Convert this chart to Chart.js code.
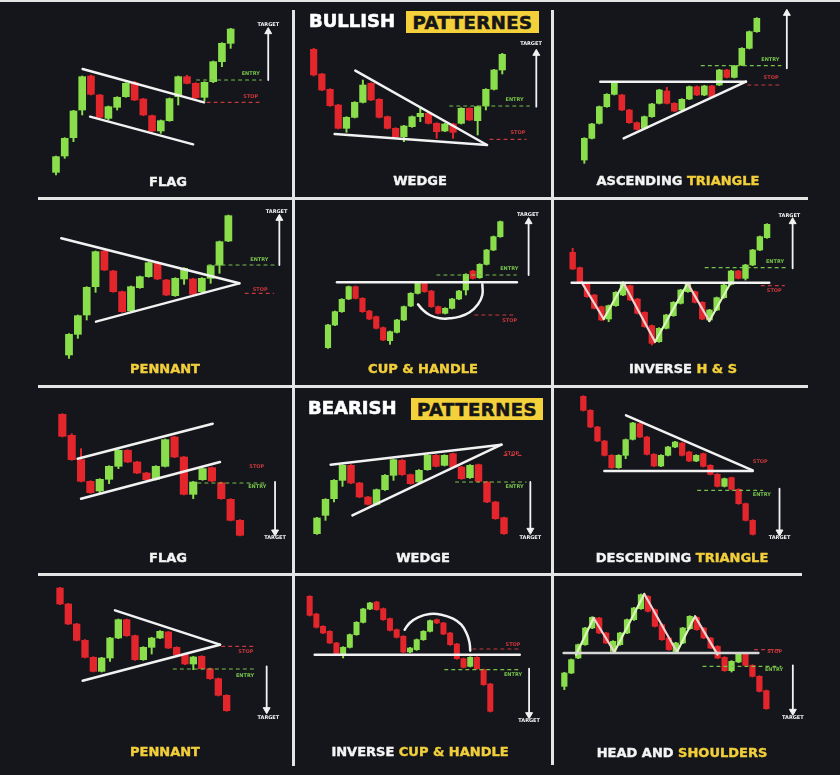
<!DOCTYPE html>
<html><head><meta charset="utf-8">
<script src="https://cdn.jsdelivr.net/npm/chart.js@4.4.1/dist/chart.umd.min.js"></script>
<style>
html,body{margin:0;padding:0;background:#14161c;}
#wrap{position:relative;width:840px;height:775px;overflow:hidden;background:#14161c;}
canvas{position:absolute;}
.ln{position:absolute;background:#e4e4e4;z-index:5}
.title{position:absolute;transform:translate(-50%,-50%);font:bold 13px "DejaVu Sans",sans-serif;color:#f4f4f4;white-space:nowrap;z-index:6;-webkit-text-stroke:0.4px currentColor}
.y{color:#f2cf3a}
.hdr{position:absolute;font:bold 18px "DejaVu Sans",sans-serif;color:#fff;z-index:6;line-height:22px;-webkit-text-stroke:0.6px currentColor}
.box{position:absolute;background:#f4d13a;color:#15161a;font:bold 18px "DejaVu Sans",sans-serif;display:flex;align-items:center;justify-content:center;z-index:6;letter-spacing:0.5px;-webkit-text-stroke:0.6px #15161a}
</style></head>
<body>
<div id="wrap">
  <div class="ln" style="left:0;top:0;width:840px;height:2px"></div>
  <div class="ln" style="left:292px;top:10px;width:3px;height:756px"></div>
  <div class="ln" style="left:551px;top:10px;width:3px;height:755px"></div>
  <div class="ln" style="left:38px;top:197px;width:770px;height:3px"></div>
  <div class="ln" style="left:38px;top:385px;width:770px;height:3px"></div>
  <div class="ln" style="left:38px;top:573px;width:764px;height:3px"></div>

  <div class="hdr" style="left:309px;top:10px">BULLISH</div>
  <div class="box" style="left:406px;top:11px;width:133px;height:22px">PATTERNES</div>
  <div class="hdr" style="left:308px;top:397px">BEARISH</div>
  <div class="box" style="left:411px;top:398px;width:132px;height:22px">PATTERNES</div>

  <div class="title" style="left:168px;top:181px">FLAG</div>
  <div class="title" style="left:420px;top:180px">WEDGE</div>
  <div class="title" style="left:678px;top:180px">ASCENDING <span class="y">TRIANGLE</span></div>
  <div class="title y" style="left:165px;top:368px">PENNANT</div>
  <div class="title y" style="left:423px;top:368px">CUP &amp; HANDLE</div>
  <div class="title" style="left:683px;top:368px">INVERSE <span class="y">H &amp; S</span></div>
  <div class="title" style="left:168px;top:557px">FLAG</div>
  <div class="title" style="left:423px;top:557px">WEDGE</div>
  <div class="title" style="left:682px;top:557px">DESCENDING <span class="y">TRIANGLE</span></div>
  <div class="title y" style="left:165px;top:751px">PENNANT</div>
  <div class="title" style="left:420px;top:751px">INVERSE <span class="y">CUP &amp; HANDLE</span></div>
  <div class="title" style="left:682px;top:752px">HEAD AND <span class="y">SHOULDERS</span></div>
</div>
<script>
// ---------- DATA (prices) ----------
// Bullish flag
const bullFlagOpen  = [83,132,187,270,372,315,245,278,310,352,303,253,207,238,310,370,350,308,355,415,470];
const bullFlagClose = [130,185,267,370,317,248,280,308,350,300,255,207,238,304,370,350,307,353,415,470,513];
const bullFlagHigh  = [132,187,269,372,375,317,282,310,352,356,305,255,240,306,372,374,352,355,417,472,515];
const bullFlagLow   = [75,125,175,255,315,245,240,270,308,298,253,205,200,236,285,348,305,297,352,400,455];
const bullFlagUpper = [[3.05,393],[16.95,293]];
const bullFlagLower = [[3.9,250],[15.7,167]];
const bullFlagEntry = [[16.1,360],[23.5,360]];
const bullFlagStop  = [[16.5,293],[23.5,293]];
const bullFlagTarget = [[24.3,360],[24.3,505]];

// Bullish wedge
const bullWedgeOpen  = [452,378,332,285,215,248,293,350,302,250,215,190,220,250,260,230,207,228,230,275,238,282,332,390];
const bullWedgeClose = [375,330,283,215,248,293,345,300,248,215,190,222,250,260,230,205,228,203,275,240,280,332,390,437];
const bullWedgeHigh  = [455,380,334,287,250,295,360,352,304,252,217,224,252,280,262,232,230,230,277,277,282,334,392,440];
const bullWedgeLow   = [372,328,281,213,203,246,291,298,246,213,188,175,218,235,228,185,205,185,228,238,195,270,330,378];
const bullWedgeUpper = [[5.08,388],[21.14,165]];
const bullWedgeLower = [[2.56,198],[21.14,165]];
const bullWedgeEntry = [[16.6,282],[26.3,282]];
const bullWedgeStop  = [[21.5,182],[25.9,182]];
const bullWedgeTarget = [[27.15,280],[27.15,440]];

// Ascending triangle
const ascTriOpen  = [120,185,230,280,317,315,270,232,215,250,290,327,290,270,303,340,315,342,345,390,368,405,455,505];
const ascTriClose = [185,228,280,317,352,270,232,212,250,288,330,290,267,302,340,315,342,310,390,368,402,455,505,545];
const ascTriHigh  = [187,230,282,319,354,317,272,234,252,290,332,338,292,304,342,342,344,344,392,392,404,457,507,547];
const ascTriLow   = [110,183,228,278,315,268,230,210,213,248,288,288,265,268,301,313,313,308,343,366,366,403,453,503];
const ascTriResist  = [[2.13,355],[21.55,355]];
const ascTriSupport = [[5.24,185],[21.55,355]];
const ascTriEntry = [[15.6,403],[26.2,403]];
const ascTriStop  = [[21.8,345],[26.2,345]];
const ascTriTarget = [[27.0,395],[27.0,560]];

// Bullish pennant
const bullPennOpen  = [120,182,240,325,432,372,310,252,322,355,397,345,298,348,348,310,350,390,462];
const bullPennClose = [182,238,323,430,375,310,250,325,355,397,348,300,350,380,302,350,388,460,538];
const bullPennHigh  = [184,240,325,432,434,374,312,327,357,399,399,347,352,382,350,352,390,462,540];
const bullPennLow   = [110,170,225,308,373,308,248,250,320,353,346,298,296,332,300,308,335,365,460];
const bullPennUpper = [[-0.87,470],[19.24,335]];
const bullPennLower = [[3.05,220],[19.24,335]];
const bullPennEntry = [[15.7,390],[23.45,390]];
const bullPennStop  = [[19.9,305],[23.1,305]];
const bullPennTarget = [[23.76,390],[23.76,530]];

// Cup & handle
const cupOpen  = [142,210,250,288,325,290,252,235,202,163,188,225,267,305,335,312,265,245,260,288,315,372,352,392,435,475];
const cupClose = [210,250,287,325,290,250,228,200,165,190,225,265,305,335,310,265,245,260,288,312,362,350,392,435,475,520];
const cupHigh  = [212,252,289,327,327,292,254,237,204,192,227,267,307,337,337,314,267,262,290,314,364,374,394,437,477,522];
const cupLow   = [140,208,248,286,288,248,226,198,163,152,186,223,265,303,308,263,243,243,258,286,300,348,350,390,433,473];
const cupNeck  = [[1.3,338],[27.4,338]];
const cupArc   = [[13.06,272],[13.78,255],[14.75,240],[16.2,230],[17.65,230],[19.1,235],[20.55,248],[21.76,272],[22.39,300],[22.39,332]];
const cupEntry = [[15.8,360],[27.3,360]];
const cupStop  = [[21.3,240],[27.1,240]];
const cupTarget = [[29.1,360],[29.1,520]];

// Inverse head & shoulders
const invHSOpen  = [428,382,335,300,265,228,268,300,328,288,248,208,160,200,238,275,310,310,278,225,255,292,332,372,350,390,435,472];
const invHSClose = [378,338,295,260,225,268,308,338,285,245,205,155,200,240,278,315,335,278,228,255,292,330,372,350,390,435,475,512];
const invHSHigh  = [440,384,337,302,267,270,310,340,330,290,250,210,202,242,280,317,337,312,280,257,294,332,374,374,392,437,477,514];
const invHSLow   = [376,336,293,258,223,220,266,298,283,243,203,150,158,198,236,273,308,276,226,222,253,290,330,348,345,388,433,470];
const invHSNeck  = [[-0.14,337],[27.3,337]];
const invHSZig   = [[1.25,338],[4.31,228],[7.08,335],[11.44,160],[15.97,335],[18.98,222],[21.99,338]];
const invHSEntry = [[18.4,382],[29.95,382]];
const invHSStop  = [[26.2,328],[29.4,328]];
const invHSTarget = [[30.55,380],[30.55,520]];

// Bearish flag
const bearFlagOpen  = [518,455,382,317,288,323,362,410,375,342,323,362,450,390,278,322,358,313,263,200];
const bearFlagClose = [452,382,317,283,323,362,410,375,342,322,362,442,390,278,315,355,318,265,200,155];
const bearFlagHigh  = [520,460,415,319,325,364,412,412,377,344,364,444,452,392,317,357,360,315,265,202];
const bearFlagLow   = [450,380,315,281,280,310,355,373,340,320,321,360,388,276,265,320,316,263,198,153];
const bearFlagUpper = [[1.64,385],[16.08,490]];
const bearFlagLower = [[2.0,265],[16.86,375]];
const bearFlagEntry = [[14.5,312],[21.85,312]];
const bearFlagTarget = [[22.75,315],[22.75,165]];

// Bearish wedge
const bearWedgeOpen  = [160,215,265,320,365,312,270,248,292,335,380,337,315,352,395,365,400,360,328,367,315,255,208];
const bearWedgeClose = [207,263,320,365,312,270,248,292,335,382,337,310,350,395,362,395,360,325,365,317,255,205,160];
const bearWedgeHigh  = [209,265,322,367,367,314,272,294,337,384,382,339,352,397,397,397,402,362,367,369,317,257,210];
const bearWedgeLow   = [158,200,255,302,310,268,246,246,290,320,335,308,313,350,360,363,358,323,326,315,253,203,158];
const bearWedgeUpper = [[1.6,367],[21.7,427]];
const bearWedgeLower = [[4.16,215],[21.7,427]];
const bearWedgeEntry = [[16.3,315],[24.6,315]];
const bearWedgeStop  = [[22.0,395],[24.0,395]];
const bearWedgeTarget = [[25.1,315],[25.1,170]];

// Descending triangle
const descTriOpen  = [572,530,480,438,395,358,395,443,490,450,398,363,395,420,432,405,378,400,365,338,302,328,293,250,200];
const descTriClose = [530,480,438,395,358,395,442,492,450,398,363,395,420,435,395,378,395,362,338,302,325,293,250,200,158];
const descTriHigh  = [574,532,482,440,397,397,444,494,492,452,400,397,422,437,434,407,397,402,367,340,327,330,295,252,202];
const descTriLow   = [528,478,436,393,356,356,385,441,448,396,361,361,393,418,393,376,376,360,336,300,300,291,248,198,156];
const descTriResist  = [[6.05,515],[24,350]];
const descTriSupport = [[2.98,348],[24,348]];
const descTriEntry = [[16.2,290],[25.4,290]];
const descTriTarget = [[27.8,295],[27.8,165]];

// Bearish pennant
const bearPennOpen  = [570,522,462,413,362,320,360,420,475,427,355,392,420,438,392,370,342,365,328,298,248];
const bearPennClose = [522,462,413,362,320,360,420,475,427,355,392,420,440,390,370,342,363,328,298,248,202];
const bearPennHigh  = [572,524,464,415,364,362,422,477,477,429,394,422,442,440,394,372,365,367,330,300,250];
const bearPennLow   = [520,460,411,360,318,318,350,418,425,353,353,372,418,388,368,340,325,326,296,246,200];
const bearPennUpper = [[6.6,503],[19.2,400]];
const bearPennLower = [[2.72,292],[19.2,400]];
const bearPennEntry = [[13.6,327],[23.4,327]];
const bearPennStop  = [[19.4,395],[23.4,395]];
const bearPennTarget = [[24.8,335],[24.8,205]];

// Inverse cup & handle
const invCupOpen  = [545,492,455,440,405,372,392,430,467,507,528,508,478,445,425,378,385,415,440,475,465,435,402,358,335,362,325,282];
const invCupClose = [488,452,435,405,372,392,430,467,507,525,505,475,443,422,378,390,415,440,472,465,432,400,358,332,362,328,280,200];
const invCupHigh  = [547,494,457,442,407,394,432,469,509,527,530,510,480,447,427,392,417,442,474,477,467,437,404,360,364,364,327,284];
const invCupLow   = [486,450,433,403,370,360,390,428,465,505,503,473,441,420,376,376,383,413,438,463,430,398,356,330,333,326,278,198];
const invCupSupport = [[0.75,370],[31.4,370]];
const invCupArc   = [[14.2,445],[14.95,465],[16.2,482],[17.94,492],[19.68,490],[21.43,478],[22.67,460],[23.5,432],[23.9,405],[24.0,382]];
const invCupEntry = [[20.2,325],[31.6,325]];
const invCupStop  = [[24.4,387],[31.6,387]];
const invCupTarget = [[32.8,328],[32.8,190]];

// Head & shoulders
const hsOpen  = [275,315,360,400,450,480,435,380,400,435,475,508,545,505,460,420,378,405,448,482,450,420,395,362,322,348,372,338,305,262];
const hsClose = [315,355,400,450,482,435,405,410,435,475,510,550,500,455,415,385,405,450,485,445,420,390,360,322,350,372,338,305,260,208];
const hsHigh  = [317,357,402,452,484,482,437,412,437,477,512,552,547,507,462,422,407,452,487,484,452,422,397,364,352,374,374,340,307,264];
const hsLow   = [265,313,358,398,448,433,403,378,398,433,473,506,498,453,413,383,376,403,446,443,418,388,358,320,318,346,336,303,258,206];
const hsNeck  = [[-0.1,375],[27.85,375]];
const hsZig   = [[1.67,370],[4.21,480],[7.18,378],[11.48,552],[16.17,378],[18.76,485],[22.0,370]];
const hsEntry = [[19.9,335],[31.1,335]];
const hsStop  = [[27.3,385],[31.1,385]];
const hsTarget = [[32.8,338],[32.8,200]];

// ---------- STYLE ----------
const GREEN = '#8ade4c', RED = '#e3262c', WHITE = '#f2f2f2';
const EGREEN = '#78c24a', ERED = '#c8383b', TY = '#f2f2f2';
const PINK = '#f4cfcf', LGREEN = '#dcf5bd';
const wrap = document.getElementById('wrap');

const trend = pts => ({pts, color: WHITE, w: 2.5});
const curve = pts => ({pts, color: WHITE, w: 2.5, tension: 0.45});
const zig = pts => ({pts, color: WHITE, w: 2.2, segment: {borderColor: c => c.p0.parsed.y > c.p1.parsed.y ? PINK : LGREEN}});
const entry = pts => ({pts, color: EGREEN, w: 1.2, dash: [3, 4]});
const stop = pts => ({pts, color: ERED, w: 1.2, dash: [3, 4]});
const arrow = pts => ({pts, color: WHITE, w: 1.8, pr: [0, 4], rot: pts[1][1] > pts[0][1] ? 0 : 180});

function panel(rect, x0, step, o, c, h, l, lines, texts) {
  const [left, top, w, hgt] = rect;
  const cv = document.createElement('canvas');
  cv.width = w; cv.height = hgt;
  cv.style.left = left + 'px'; cv.style.top = top + 'px';
  wrap.appendChild(cv);
  const idx = o.map((_, i) => i);
  const col = o.map((v, i) => c[i] >= v ? GREEN : RED);
  const ds = [
    {type: 'bar', data: idx.map(i => ({x: i, y: [l[i], h[i]]})), backgroundColor: col, barThickness: 1.3, grouped: false, order: 3},
    {type: 'bar', data: idx.map(i => ({x: i, y: [o[i], c[i]]})), backgroundColor: col, barThickness: step * 0.8 / 3, grouped: false, order: 2}
  ];
  lines.forEach(L => ds.push({
    type: 'line', data: L.pts.map(([x, y]) => ({x, y})), borderColor: L.color, borderWidth: L.w,
    borderDash: L.dash || [], pointRadius: L.pr || 0, pointStyle: 'triangle', rotation: L.rot || 0,
    pointBackgroundColor: L.color, pointBorderColor: L.color, pointBorderWidth: 1,
    tension: L.tension || 0, segment: L.segment || {}, order: 0, clip: false, borderCapStyle: 'round'
  }));
  const txt = {
    id: 'txt',
    afterDatasetsDraw(chart) {
      const {ctx, scales: {x, y}} = chart;
      texts.forEach(t => {
        ctx.save();
        ctx.font = 'bold 5px "DejaVu Sans"';
        ctx.fillStyle = t[3]; ctx.textAlign = 'center'; ctx.textBaseline = 'middle';
        ctx.fillText(t[0], x.getPixelForValue(t[1]), y.getPixelForValue(t[2]));
        ctx.restore();
      });
    }
  };
  new Chart(cv, {
    type: 'bar',
    data: {datasets: ds},
    options: {
      responsive: false, animation: false, events: [],
      layout: {padding: 0, autoPadding: false},
      plugins: {legend: {display: false}, tooltip: {enabled: false}},
      scales: {
        x: {type: 'linear', display: false, offset: false, min: -x0 / step, max: (3 * w - x0) / step},
        y: {type: 'linear', display: false, min: 600 - 3 * hgt, max: 600}
      }
    },
    plugins: [txt]
  });
}

panel([0, 0, 295, 197], 168, 26.2, bullFlagOpen, bullFlagClose, bullFlagHigh, bullFlagLow,
  [trend(bullFlagUpper), trend(bullFlagLower), entry(bullFlagEntry), stop(bullFlagStop), arrow(bullFlagTarget)],
  [['ENTRY', 22.3, 378, EGREEN], ['STOP', 22.3, 310, ERED], ['TARGET', 24.3, 525, TY]]);

panel([293, 0, 260, 197], 62, 24.6, bullWedgeOpen, bullWedgeClose, bullWedgeHigh, bullWedgeLow,
  [trend(bullWedgeUpper), trend(bullWedgeLower), entry(bullWedgeEntry), stop(bullWedgeStop), arrow(bullWedgeTarget)],
  [['ENTRY', 24.5, 302, EGREEN], ['STOP', 24.9, 202, ERED], ['TARGET', 26.5, 468, TY]]);

panel([551, 0, 289, 197], 100, 22.5, ascTriOpen, ascTriClose, ascTriHigh, ascTriLow,
  [trend(ascTriResist), trend(ascTriSupport), entry(ascTriEntry), stop(ascTriStop), arrow(ascTriTarget)],
  [['ENTRY', 24.8, 422, EGREEN], ['STOP', 24.9, 367, ERED]]);

panel([0, 195, 295, 193], 207, 26.56, bullPennOpen, bullPennClose, bullPennHigh, bullPennLow,
  [trend(bullPennUpper), trend(bullPennLower), entry(bullPennEntry), stop(bullPennStop), arrow(bullPennTarget)],
  [['ENTRY', 21.5, 407, EGREEN], ['STOP', 21.6, 317, ERED], ['TARGET', 23.45, 550, TY]]);

panel([293, 195, 260, 193], 105, 20.68, cupOpen, cupClose, cupHigh, cupLow,
  [trend(cupNeck), curve(cupArc), entry(cupEntry), stop(cupStop), arrow(cupTarget)],
  [['ENTRY', 26.3, 379, EGREEN], ['STOP', 26.35, 223, ERED], ['TARGET', 29.0, 540, TY]]);

panel([551, 195, 289, 193], 65, 21.6, invHSOpen, invHSClose, invHSHigh, invHSLow,
  [trend(invHSNeck), zig(invHSZig), entry(invHSEntry), stop(invHSStop), arrow(invHSTarget)],
  [['ENTRY', 28.1, 400, EGREEN], ['STOP', 28.0, 313, ERED], ['TARGET', 30.1, 538, TY]]);

panel([0, 387, 295, 193], 187, 28.05, bearFlagOpen, bearFlagClose, bearFlagHigh, bearFlagLow,
  [trend(bearFlagUpper), trend(bearFlagLower), entry(bearFlagEntry), arrow(bearFlagTarget)],
  [['STOP', 20.8, 362, ERED], ['ENTRY', 20.85, 302, EGREEN], ['TARGET', 22.75, 147, TY]]);

panel([293, 387, 260, 193], 72, 25.5, bearWedgeOpen, bearWedgeClose, bearWedgeHigh, bearWedgeLow,
  [trend(bearWedgeUpper), trend(bearWedgeLower), entry(bearWedgeEntry), stop(bearWedgeStop), arrow(bearWedgeTarget)],
  [['STOP', 22.9, 400, ERED], ['ENTRY', 23.25, 302, EGREEN], ['TARGET', 25.1, 148, TY]]);

panel([551, 387, 289, 193], 97, 21.17, descTriOpen, descTriClose, descTriHigh, descTriLow,
  [trend(descTriResist), trend(descTriSupport), entry(descTriEntry), arrow(descTriTarget)],
  [['STOP', 25.08, 375, ERED], ['ENTRY', 25.3, 278, EGREEN], ['TARGET', 27.8, 148, TY]]);

panel([0, 578, 295, 197], 180, 25, bearPennOpen, bearPennClose, bearPennHigh, bearPennLow,
  [trend(bearPennUpper), trend(bearPennLower), entry(bearPennEntry), stop(bearPennStop), arrow(bearPennTarget)],
  [['STOP', 22.3, 378, ERED], ['ENTRY', 22.2, 308, EGREEN], ['TARGET', 25.0, 182, TY]]);

panel([293, 578, 260, 197], 50, 20.07, invCupOpen, invCupClose, invCupHigh, invCupLow,
  [trend(invCupSupport), curve(invCupArc), entry(invCupEntry), stop(invCupStop), arrow(invCupTarget)],
  [['STOP', 30.4, 400, ERED], ['ENTRY', 30.4, 310, EGREEN], ['TARGET', 32.8, 172, TY]]);

panel([551, 578, 289, 197], 40, 20.9, hsOpen, hsClose, hsHigh, hsLow,
  [{pts: hsNeck, color: '#d6d6d6', w: 2.5}, zig(hsZig), entry(hsEntry), stop(hsStop), arrow(hsTarget)],
  [['STOP', 30.2, 380, ERED], ['ENTRY', 30.1, 325, EGREEN], ['TARGET', 32.8, 182, TY]]);
</script>
</body></html>
